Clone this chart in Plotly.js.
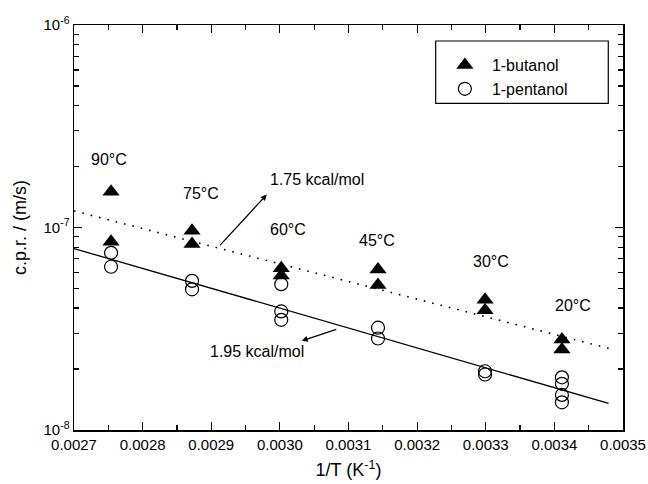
<!DOCTYPE html>
<html>
<head>
<meta charset="utf-8">
<script src="https://cdn.plot.ly/plotly-3.0.1.min.js"></script>
<style>html,body{margin:0;padding:0;background:#fff}#chart{width:648px;height:484px}</style>
</head>
<body>
<div id="chart"></div>
<script>
// 1/T values (K^-1) for each measurement
const butanolX = [0.002754, 0.002754, 0.002872, 0.002872, 0.003002, 0.003002, 0.003143, 0.003143, 0.003299, 0.003299, 0.003411, 0.003411];
const butanolY = [1.50e-7, 8.5e-8, 9.65e-8, 8.3e-8, 6.3e-8, 5.8e-8, 6.2e-8, 5.2e-8, 4.4e-8, 3.9e-8, 2.8e-8, 2.5e-8];
const pentanolX = [0.002754, 0.002754, 0.002872, 0.002872, 0.003002, 0.003002, 0.003002, 0.003143, 0.003143, 0.003299, 0.003299, 0.003411, 0.003411, 0.003411, 0.003411];
const pentanolY = [7.5e-8, 6.4e-8, 5.45e-8, 4.95e-8, 5.25e-8, 3.85e-8, 3.5e-8, 3.2e-8, 2.83e-8, 1.95e-8, 1.88e-8, 1.82e-8, 1.69e-8, 1.49e-8, 1.37e-8];

// Fit lines (endpoints)
const fitX = [0.0027, 0.003479];
const butanolFit = [1.207e-7, 2.53e-8];
const pentanolFit = [7.87e-8, 1.354e-8];

// Temperature labels
const tempLabels = ["90°C", "75°C", "60°C", "45°C", "30°C", "20°C"];
const tempLabelX = [0.0027517, 0.0028844, 0.0030112, 0.0031417, 0.0033071, 0.0034267];
const tempLabelY = [2.17e-7, 1.47e-7, 9.77e-8, 8.65e-8, 6.76e-8, 4.13e-8];

// Tick labels
const xTickVals = [0.0027, 0.0028, 0.0029, 0.0030, 0.0031, 0.0032, 0.0033, 0.0034, 0.0035];
const xTickText = ["0.0027", "0.0028", "0.0029", "0.0030", "0.0031", "0.0032", "0.0033", "0.0034", "0.0035"];
const yTickVals = [1e-8, 1e-7, 1e-6];
const yTickText = ["10<sup>-8</sup>", "10<sup>-7</sup>", "10<sup>-6</sup>"];
const yMinorVals = [2e-8,3e-8,4e-8,5e-8,6e-8,7e-8,8e-8,9e-8,2e-7,3e-7,4e-7,5e-7,6e-7,7e-7,8e-7,9e-7];

const FONT = "Liberation Sans, Arial, Helvetica, sans-serif";

const traces = [
  {x: fitX, y: butanolFit, mode: 'lines', line: {color: 'black', width: 1.6, dash: '1.6px,7px'}, showlegend: false, hoverinfo: 'skip'},
  {x: fitX, y: pentanolFit, mode: 'lines', line: {color: 'black', width: 1.3}, showlegend: false, hoverinfo: 'skip'},
  {x: butanolX, y: butanolY, mode: 'markers', name: '1-butanol',
   marker: {symbol: 'triangle-up', size: 15, color: 'black', line: {width: 0}}},
  {x: pentanolX, y: pentanolY, mode: 'markers', name: '1-pentanol',
   marker: {symbol: 'circle-open', size: 13, color: 'black', line: {width: 1.2, color: 'black'}}}
];

const annotations = tempLabels.map((t, i) => ({
  x: tempLabelX[i], y: Math.log10(tempLabelY[i]), xref: 'x', yref: 'y',
  text: t, showarrow: false, font: {family: FONT, size: 16, color: 'black'}
}));
annotations.push(
  {x: 0.0029828, y: -6.762, xref: 'x', yref: 'y', xanchor: 'left', text: '1.75 kcal/mol', showarrow: false, font: {family: FONT, size: 16, color: 'black'}},
  {x: 0.0028953, y: -7.612, xref: 'x', yref: 'y', xanchor: 'left', text: '1.95 kcal/mol', showarrow: false, font: {family: FONT, size: 16, color: 'black'}},
  {x: 0.0029809, y: -6.8375, xref: 'x', yref: 'y', ax: -48, ay: 52, text: '', showarrow: true, arrowhead: 2, arrowsize: 1, arrowwidth: 1.2, arrowcolor: 'black'},
  {x: 0.0030319, y: -7.5596, xref: 'x', yref: 'y', ax: 36, ay: -12, text: '', showarrow: true, arrowhead: 2, arrowsize: 1, arrowwidth: 1.2, arrowcolor: 'black'}
);

const layout = {
  width: 648, height: 484,
  margin: {l: 74, r: 25, t: 25, b: 54, pad: 0},
  paper_bgcolor: 'white', plot_bgcolor: 'white',
  font: {family: FONT, size: 15, color: 'black'},
  showlegend: true,
  legend: {x: 0.6628, y: 0.943, xanchor: 'left', yanchor: 'top', bordercolor: 'rgba(0,0,0,0)', borderwidth: 0,
           bgcolor: 'rgba(0,0,0,0)', itemwidth: 44, font: {family: FONT, size: 16, color: 'black'}, tracegroupgap: 0},
  shapes: [
    {type: 'rect', xref: 'paper', yref: 'paper', x0: 0.6588, x1: 0.9732, y0: 0.8067, y1: 0.9605,
     line: {color: 'black', width: 1.2}, fillcolor: 'rgba(0,0,0,0)', layer: 'above'}
  ],
  xaxis: {
    range: [0.0027, 0.0035], showgrid: false, zeroline: false,
    showline: true, linecolor: 'black', linewidth: 1.5, mirror: 'allticks',
    ticks: 'inside', ticklen: 8, tickwidth: 1.2, tickcolor: 'black',
    tickmode: 'array', tickvals: xTickVals, ticktext: xTickText,
    minor: {dtick: 0.00005, tick0: 0.0027, ticks: 'inside', ticklen: 5, tickwidth: 1.2, tickcolor: 'black'},
    tickfont: {family: FONT, size: 15},
    title: {text: '1/T (K<sup>-1</sup>)', font: {family: FONT, size: 18}, standoff: 12}
  },
  yaxis: {
    type: 'log', range: [-8, -6], showgrid: false, zeroline: false,
    showline: true, linecolor: 'black', linewidth: 1.5, mirror: 'allticks',
    ticks: 'inside', ticklen: 8, tickwidth: 1.2, tickcolor: 'black',
    tickmode: 'array', tickvals: yTickVals, ticktext: yTickText,
    minor: {tickmode: 'array', tickvals: yMinorVals, ticks: 'inside', ticklen: 5, tickwidth: 1.2, tickcolor: 'black'},
    tickfont: {family: FONT, size: 15},
    title: {text: 'c.p.r. / (m/s)', font: {family: FONT, size: 18}, standoff: 12}
  },
  annotations: annotations
};

Plotly.newPlot('chart', traces, layout, {displayModeBar: false, staticPlot: true});
</script>
</body>
</html>
